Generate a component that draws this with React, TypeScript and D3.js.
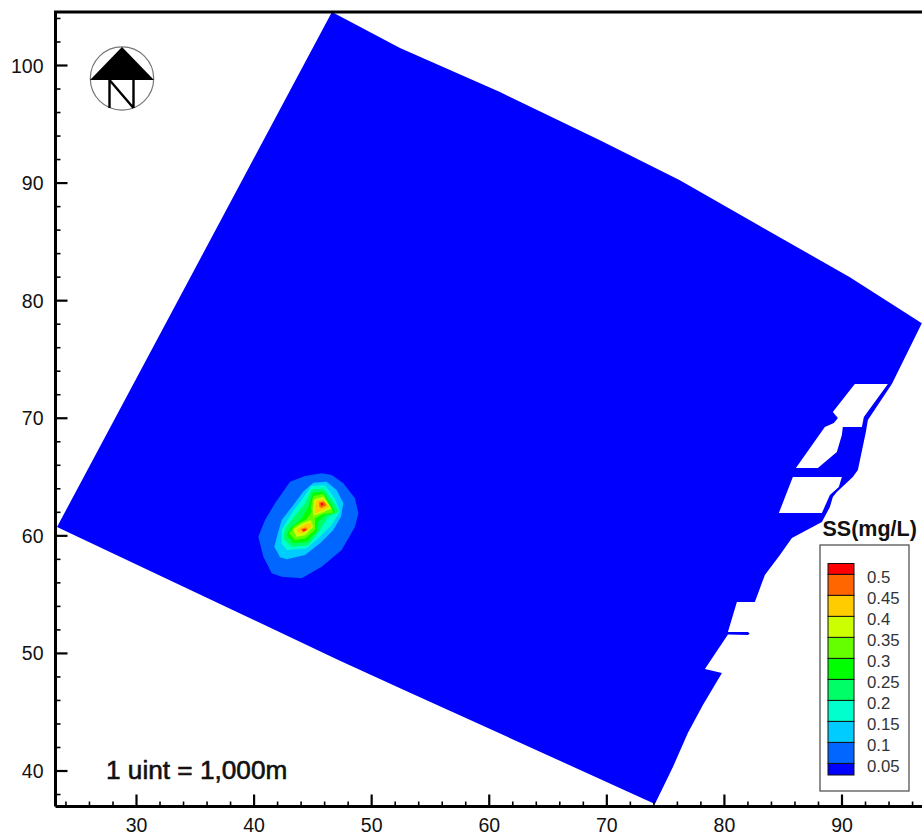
import React from "react";
import * as d3 from "d3";

type Pt = [number, number];

const levels = [0.05, 0.1, 0.15, 0.2, 0.25, 0.3, 0.35, 0.4, 0.45, 0.5];
const bandColors = ["#0000ff", "#0066ff", "#00ccff", "#00ffcc", "#00ff66", "#00ff00", "#66ff00", "#ccff00", "#ffcc00", "#ff6600", "#ff0000"];
const xTicks = [30, 40, 50, 60, 70, 80, 90];
const yTicks = [40, 50, 60, 70, 80, 90, 100];
const xMinor = [24, 26, 28, 32, 34, 36, 38, 42, 44, 46, 48, 52, 54, 56, 58, 62, 64, 66, 68, 72, 74, 76, 78, 82, 84, 86, 88, 92, 94, 96];
const yMinor = [38, 42, 44, 46, 48, 52, 54, 56, 58, 62, 64, 66, 68, 72, 74, 76, 78, 82, 84, 86, 88, 92, 94, 96, 98, 102, 104];

const domainOutline: Pt[] = [
  [46.62, 104.54], [52.41, 101.48], [60.91, 97.74], [69.41, 93.65], [76.21, 90.25], [83.02, 86.34], [90.67, 82.0], [96.79, 78.09],
  [94.24, 72.91], [92.2, 69.85], [92.03, 68.83], [91.35, 65.59], [90.92, 65.0], [89.56, 63.72], [89.22, 63.3], [88.97, 62.45],
  [88.29, 61.17], [85.74, 59.81], [84.72, 58.37], [83.44, 56.67], [82.59, 54.37], [81.06, 54.37], [80.3, 51.82], [82.0, 51.82],
  [82.15, 51.69], [82.0, 51.56], [80.3, 51.6], [78.34, 48.67], [79.79, 48.33], [78.17, 45.61], [76.89, 43.23], [75.62, 40.34],
  [74.09, 37.19], [64.31, 41.64], [53.26, 46.66], [47.3, 49.38], [23.24, 60.75],
];
const hole1: Pt[] = [
  [91.09, 72.91], [93.9, 72.91], [91.86, 70.1], [91.69, 69.25], [90.07, 69.25], [89.99, 68.57], [89.56, 67.12], [87.95, 65.76],
  [86.08, 65.76], [88.54, 69.25], [89.31, 69.59], [89.65, 70.02], [89.22, 70.53],
];
const hole2: Pt[] = [[85.82, 65.0], [89.99, 65.0], [89.73, 64.15], [88.97, 63.47], [88.29, 61.94], [84.63, 61.94]];

const band1: Pt[][] = [[[45.75, 65.32], [46.6, 65.17], [47.59, 64.47], [48.58, 63.19], [48.87, 61.92], [48.58, 60.78], [47.45, 58.8], [45.75, 57.38], [44.05, 56.39], [42.35, 56.53], [41.5, 56.81], [40.79, 58.23], [40.36, 59.93], [40.93, 61.35], [41.78, 62.77], [43.06, 64.61], [44.33, 65.09]]];
const band2: Pt[][] = [[[45.04, 64.52], [46.17, 64.61], [47.02, 63.9], [47.59, 62.77], [47.39, 61.63], [46.74, 60.5], [45.61, 59.37], [44.33, 58.37], [42.77, 58.0], [42.21, 58.17], [41.72, 59.08], [42.06, 60.36], [42.35, 61.35], [43.34, 62.62], [44.19, 63.76]]];
const band3: Pt[][] = [[[44.89, 64.23], [46.03, 64.31], [46.88, 63.18], [47.3, 62.05], [46.59, 60.91], [45.6, 59.92], [44.47, 58.93], [42.77, 58.79], [42.34, 59.35], [42.34, 60.49], [43.19, 61.91], [44.04, 63.04]]];
const band4: Pt[][] = [[[44.89, 63.95], [45.88, 64.03], [46.73, 62.9], [47.24, 62.05], [46.31, 61.62], [45.6, 60.49], [44.61, 59.21], [43.19, 59.07], [42.48, 59.78], [42.63, 60.63], [43.62, 61.91], [44.33, 62.76]]];
const band5: Pt[][] = [[[44.98, 63.66], [45.88, 63.75], [46.59, 62.61], [46.88, 61.99], [46.03, 61.76], [45.46, 61.2], [45.32, 60.35], [44.47, 59.5], [43.33, 59.36], [42.77, 60.06], [43.05, 60.63], [44.04, 61.48], [44.61, 62.47]]];
const band6: Pt[][] = [[[45.03, 63.38], [45.88, 63.55], [46.45, 62.61], [46.73, 61.99], [45.88, 61.85], [45.18, 61.48], [45.18, 60.49], [44.33, 59.78], [43.48, 59.64], [42.99, 60.21], [43.48, 60.91], [44.47, 61.4], [44.89, 62.05], [44.81, 62.47]]];
const band7: Pt[][] = [
  [[45.09, 63.1], [45.88, 63.32], [46.59, 62.33], [45.6, 61.91], [45.03, 61.68], [44.98, 62.33]],
  [[43.33, 60.55], [44.18, 61.11], [44.81, 61.34], [45.03, 60.77], [44.33, 60.06], [43.56, 59.92]],
];
const band8: Pt[][] = [
  [[45.32, 63.04], [45.88, 63.1], [46.39, 62.47], [45.6, 62.05], [45.18, 61.91], [45.18, 62.47]],
  [[43.62, 60.55], [44.33, 60.97], [44.89, 61.11], [44.89, 60.72], [44.18, 60.21], [43.76, 60.21]],
];
const band9: Pt[][] = [
  [[45.54, 62.87], [45.94, 62.93], [46.17, 62.61], [45.74, 62.36], [45.54, 62.47]],
  [[43.96, 60.57], [44.41, 60.72], [44.55, 60.49], [44.18, 60.32]],
];
const band10: Pt[][] = [
  [[45.66, 62.76], [45.83, 62.81], [45.91, 62.64], [45.71, 62.56]],
  [[44.13, 60.52], [44.35, 60.57], [44.35, 60.43], [44.18, 60.4]],
];
const contourBands = [band1, band2, band3, band4, band5, band6, band7, band8, band9, band10];

const x = d3.scaleLinear().domain([30, 90]).range([136.5, 842]);
const y = d3.scaleLinear().domain([40, 100]).range([771, 65.5]);
const legendY = d3.scaleLinear().domain([0.05, 0.5]).range([763.4, 574.3]);
const line = d3.line<Pt>().x((d) => x(d[0])).y((d) => y(d[1])).curve(d3.curveLinearClosed);

const FONT = "'Liberation Sans', Arial, sans-serif";
const LEFT = 55.5;
const TOP = 12;
const BOTTOM = 806.5;
const RIGHT = 922;

export default function App() {
  const legendEdges = [775, ...levels.map((l) => legendY(l)), 563.5];
  return (
    <svg width={922} height={834} viewBox="0 0 922 834" style={{ position: "absolute", left: 0, top: 0, background: "#fff" }} fontFamily={FONT}>
      <path d={(line(domainOutline) ?? "") + (line(hole1) ?? "") + (line(hole2) ?? "")} fill={bandColors[0]} fillRule="evenodd" />
      {contourBands.map((polys, i) => (
        <path key={i} d={polys.map((p) => line(p)).join("")} fill={bandColors[i + 1]} />
      ))}

      {xMinor.map((t) => <line key={t} x1={x(t)} x2={x(t)} y1={BOTTOM} y2={BOTTOM - 5} stroke="#000" strokeWidth={1.6} />)}
      {yMinor.map((t) => <line key={t} y1={y(t)} y2={y(t)} x1={LEFT} x2={LEFT + 5} stroke="#000" strokeWidth={1.6} />)}
      {xTicks.map((t) => (
        <g key={t}>
          <line x1={x(t)} x2={x(t)} y1={BOTTOM} y2={BOTTOM - 12} stroke="#000" strokeWidth={2.2} />
          <text x={x(t)} y={831.5} textAnchor="middle" fontSize={19.5} fill="#111">{t}</text>
        </g>
      ))}
      {yTicks.map((t) => (
        <g key={t}>
          <line y1={y(t)} y2={y(t)} x1={LEFT} x2={LEFT + 12} stroke="#000" strokeWidth={2.2} />
          <text x={43.5} y={y(t) + 7} textAnchor="end" fontSize={19.5} fill="#111">{t}</text>
        </g>
      ))}
      <path d={`M${LEFT},${BOTTOM}V${TOP}H${RIGHT}M${LEFT},${BOTTOM}H${RIGHT}`} fill="none" stroke="#000" strokeWidth={3} />

      <text x={106} y={779} fontSize={26.2} fill="#111" stroke="#111" strokeWidth={0.6}>1 uint = 1,000m</text>

      <g>
        <circle cx={122} cy={78.5} r={31.7} fill="none" stroke="#777" strokeWidth={1.2} />
        <path d="M122,47L154,80H90Z" fill="#000" />
        <path d="M109.5,80V108M133.5,80V108M109.5,80L133.5,108" fill="none" stroke="#000" strokeWidth={2.4} />
      </g>

      <text x={822.5} y={536} fontSize={21.5} fontWeight="bold" fill="#111">SS(mg/L)</text>
      <rect x={820} y={545} width={89} height={246} fill="#fff" stroke="#555" strokeWidth={1.3} />
      {bandColors.map((c, i) => (
        <rect key={c} x={828} width={26} y={legendEdges[i + 1]} height={legendEdges[i] - legendEdges[i + 1]} fill={c} stroke="#111" strokeWidth={1} />
      ))}
      {levels.map((l) => (
        <text key={l} x={867} y={legendY(l) + 9} fontSize={16.8} fill="#333">{l}</text>
      ))}
    </svg>
  );
}
